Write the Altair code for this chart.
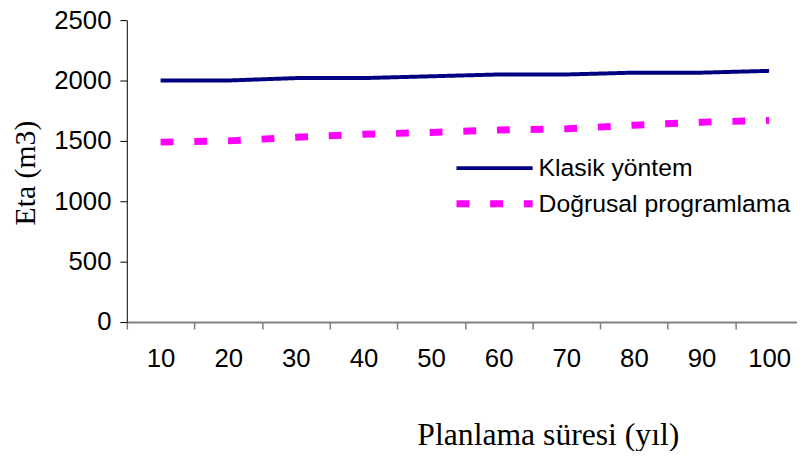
import altair as alt
import pandas as pd

years = ["10", "20", "30", "40", "50", "60", "70", "80", "90", "100"]
klasik = [2000, 2000, 2020, 2020, 2035, 2050, 2050, 2065, 2065, 2080]
dogrusal = [1490, 1500, 1530, 1555, 1570, 1590, 1600, 1630, 1655, 1670]
series = ["Klasik yöntem", "Doğrusal programlama"]
y_ticks = [0, 500, 1000, 1500, 2000, 2500]

rows = []
for s, vals in zip(series, [klasik, dogrusal]):
    for yr, v in zip(years, vals):
        rows.append({"yil": yr, "eta": v, "seri": s})
df = pd.DataFrame(rows)

leg = alt.Legend(
    title=None, orient="none", legendX=358, legendY=137,
    symbolType="M-4,0H4", symbolSize=370, labelOffset=31, padding=0,
    rowPadding=8, labelFont="Liberation Sans", labelFontSize=25,
    labelColor="black", symbolOpacity=1, labelLimit=0,
)

chart = alt.Chart(df).mark_line(strokeCap="butt").encode(
    x=alt.X("yil:O", sort=years, bandPosition=0.5,
            scale=alt.Scale(type="band", paddingInner=0, paddingOuter=0),
            axis=alt.Axis(tickBand="extent", tickSize=7, tickColor="#808080",
                          domainColor="#808080", domainWidth=2, tickWidth=1.5,
                          labelAngle=0, labelPadding=17, labelFont="Liberation Sans",
                          labelFontSize=26, labelColor="black", grid=False,
                          title="Planlama süresi (yıl)", titleFont="Liberation Serif",
                          titleFontSize=32, titleFontWeight="normal", titleColor="black",
                          titleX=293, titleY=124, titleAlign="left",
                          titleBaseline="alphabetic")),
    y=alt.Y("eta:Q",
            scale=alt.Scale(domain=[0, 2500], nice=False),
            axis=alt.Axis(values=y_ticks, format="d", tickSize=7, tickColor="black",
                          domainColor="black", labelPadding=9,
                          labelFont="Liberation Sans", labelFontSize=26,
                          labelColor="black", grid=False, title="Eta (m3)",
                          titleFont="Liberation Serif", titleFontSize=30,
                          titleFontWeight="normal", titleColor="black",
                          titleX=-93, titleY=154, titleAlign="center",
                          titleBaseline="alphabetic")),
    color=alt.Color("seri:N", scale=alt.Scale(domain=series, range=["#000080", "#ff00ff"]),
                    legend=leg),
    strokeDash=alt.StrokeDash("seri:N", scale=alt.Scale(domain=series, range=[[1, 0], [13, 21]]),
                              legend=leg),
    strokeWidth=alt.StrokeWidth("seri:N", scale=alt.Scale(domain=series, range=[4, 7]),
                                legend=leg),
).properties(
    width=683, height=305,
    autosize=alt.AutoSizeParams(type="none"),
    padding={"left": 120, "top": 10, "right": -6, "bottom": 128},
).configure_view(stroke=None)

chart.save("out.html", embed_options={"renderer": "svg", "actions": False})
